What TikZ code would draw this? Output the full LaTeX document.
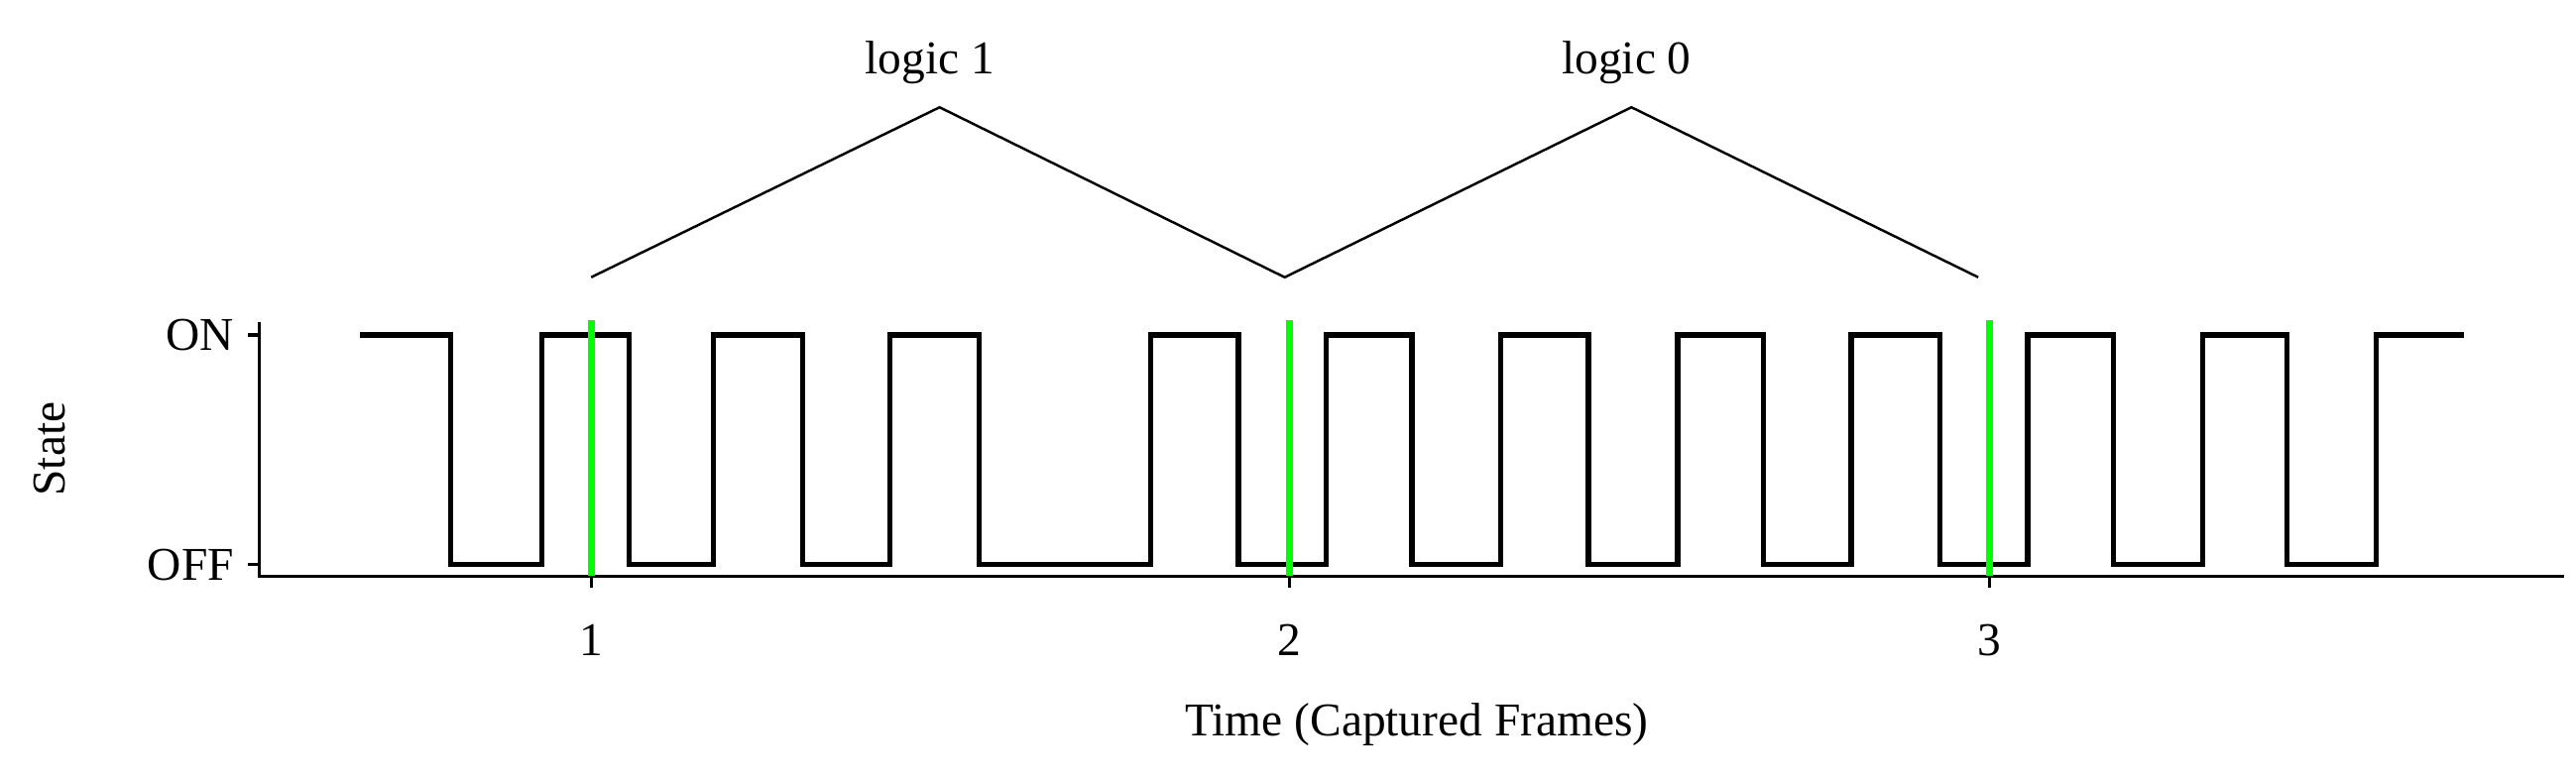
\documentclass[tikz,border=0pt]{standalone}
\usepackage{fontspec}
\setmainfont{Liberation Serif}
\begin{document}
\begin{tikzpicture}[x=0.016667cm,y=-0.016667cm,
  lbl/.style={font=\fontsize{13.5}{16}\selectfont,inner sep=0pt},
  sig/.style={line width=1.5pt,line join=miter},
  axis/.style={line width=0.9pt},
  mark1/.style={line width=1.9pt,green!90!black,draw=green},
  brace/.style={line width=0.7pt}]
\useasboundingbox (0,0) rectangle (1560,471);
% axes
\coordinate (o) at (157,349);
\coordinate (xe) at (1553,349);
\coordinate (yt) at (157,195);
\draw[axis] (yt) -- (o) -- (xe);
\draw[axis] (150,203) -- (157,203);
\draw[axis] (150,342) -- (157,342);
\foreach \x/\t in {358/1,781/2,1205/3}{
  \draw[axis] (\x,349) -- (\x,356);
  \node[lbl] (t\t) at (\x,388) {\t};
}
\node[lbl,anchor=east] (on) at (142,203) {ON};
\node[lbl,anchor=east] (off) at (142,342) {OFF};
\node[lbl,rotate=90] (st) at (30,272) {State};
\node[lbl] (xl) at (858,439) {Time (Captured Frames)};
% signal
\draw[sig] (218,203) -- (273,203) -- (273,342) -- (328,342) -- (328,203) -- (381,203) -- (381,342) -- (432,342) -- (432,203) -- (486,203) -- (486,342) -- (539,342) -- (539,203) -- (593,203) -- (593,342) -- (697,342) -- (697,203) -- (750,203) -- (750,342) -- (803,342) -- (803,203) -- (855,203) -- (855,342) -- (909,342) -- (909,203) -- (962,203) -- (962,342) -- (1016,342) -- (1016,203) -- (1068,203) -- (1068,342) -- (1121,342) -- (1121,203) -- (1175,203) -- (1175,342) -- (1228,342) -- (1228,203) -- (1280,203) -- (1280,342) -- (1334,342) -- (1334,203) -- (1385,203) -- (1385,342) -- (1439,342) -- (1439,203) -- (1492,203);
% green markers
\foreach \x in {358,781,1205}{\draw[mark1] (\x,194) -- (\x,349);}
% logic brackets
\coordinate (a) at (358,168);
\coordinate (b) at (569,65);
\coordinate (c) at (778,168);
\coordinate (d) at (988,65);
\coordinate (e) at (1198,168);
\draw[brace] (a) -- (b) -- (c) -- (d) -- (e);
\node[lbl] (l1) at (563,38) {logic 1};
\node[lbl] (l0) at (985,38) {logic 0};
\end{tikzpicture}
\end{document}
